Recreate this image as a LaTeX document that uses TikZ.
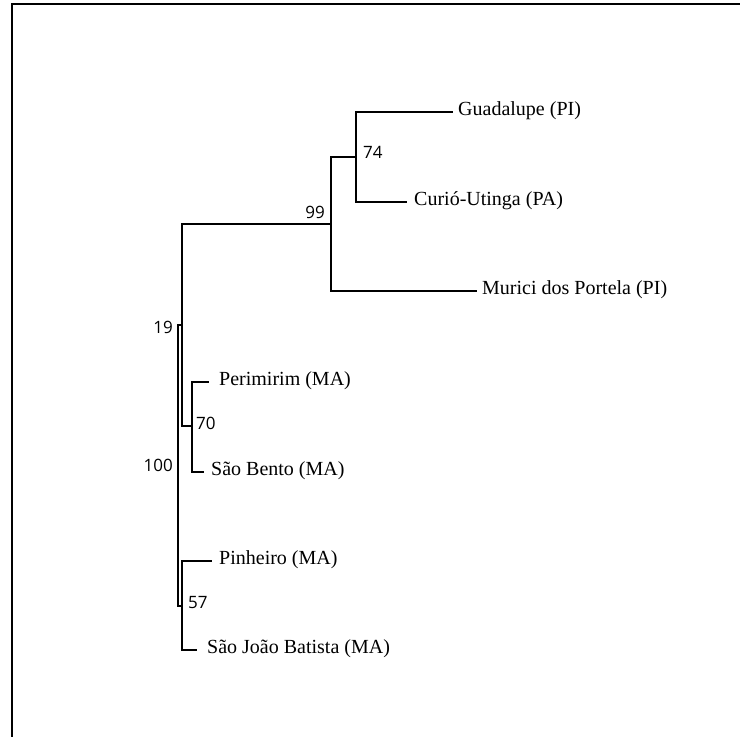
\documentclass[tikz,border=0pt]{standalone}
\usepackage{fontspec}
\setmainfont{Liberation Serif}
\newfontfamily\numfont{Open Sans}
\begin{document}
\begin{tikzpicture}[x=1pt,y=-1pt,
  branch/.style={line width=1.3pt, line cap=rect},
  frameline/.style={line width=2pt},
  taxon/.style={anchor=base west, inner sep=0pt, font=\fontsize{20}{22}\selectfont},
  boot/.style={inner sep=0pt, font=\numfont\fontsize{17}{19}\selectfont}]
\useasboundingbox (0,0) rectangle (740,737);
\draw[frameline] (11.5,737) -- (11.5,4) -- (740,4);
% internal nodes
\coordinate (n100t) at (178,325);
\coordinate (n100b) at (178,606);
\coordinate (n19t) at (182,224);
\coordinate (n19m) at (182,325);
\coordinate (n19b) at (182,426);
\coordinate (n99t) at (331,157);
\coordinate (n99m) at (331,224);
\coordinate (n99b) at (331,291);
\coordinate (n74t) at (356,112);
\coordinate (n74m) at (356,157);
\coordinate (n74b) at (356,202);
\coordinate (n70t) at (192,382);
\coordinate (n70m) at (192,426);
\coordinate (n70b) at (192,472);
\coordinate (n57t) at (182,561);
\coordinate (n57m) at (182,606);
\coordinate (n57b) at (182,650);
% leaf ends
\coordinate (lG) at (452,112);
\coordinate (lC) at (406,202);
\coordinate (lM) at (476,291);
\coordinate (lPe) at (208,382);
\coordinate (lSB) at (203,472);
\coordinate (lPi) at (211,561);
\coordinate (lSJ) at (196,650);
% taxa
\node[taxon] (tG) at (458,115.5) {Guadalupe (PI)};
\node[taxon] (tC) at (414,205.5) {Curió-Utinga (PA)};
\node[taxon] (tM) at (482,294.5) {Murici dos Portela (PI)};
\node[taxon] (tPe) at (219,385.5) {Perimirim (MA)};
\node[taxon] (tSB) at (211,475.5) {São Bento (MA)};
\node[taxon] (tPi) at (219,564.5) {Pinheiro (MA)};
\node[taxon] (tSJ) at (207,653.5) {São João Batista (MA)};
% bootstrap
\node[boot, anchor=base east] (b99) at (325,218) {99};
\node[boot, anchor=base west] (b74) at (363,158) {74};
\node[boot, anchor=base east] (b19) at (173,333) {19};
\node[boot, anchor=base east] (b100) at (173,471) {100};
\node[boot, anchor=base west] (b70) at (196,429) {70};
\node[boot, anchor=base west] (b57) at (188,608) {57};
% branches
\draw[branch] (n100t) -- (n100b);
\draw[branch] (n100t) -- (n19m);
\draw[branch] (n19t) -- (n19b);
\draw[branch] (n100b) -- (n57m);
\draw[branch] (n19t) -- (n99m);
\draw[branch] (n99t) -- (n99b);
\draw[branch] (n99t) -- (n74m);
\draw[branch] (n74t) -- (n74b);
\draw[branch] (n74t) -- (lG);
\draw[branch] (n74b) -- (lC);
\draw[branch] (n99b) -- (lM);
\draw[branch] (n19b) -- (n70m);
\draw[branch] (n70t) -- (n70b);
\draw[branch] (n70t) -- (lPe);
\draw[branch] (n70b) -- (lSB);
\draw[branch] (n57t) -- (n57b);
\draw[branch] (n57t) -- (lPi);
\draw[branch] (n57b) -- (lSJ);
\end{tikzpicture}
\end{document}
